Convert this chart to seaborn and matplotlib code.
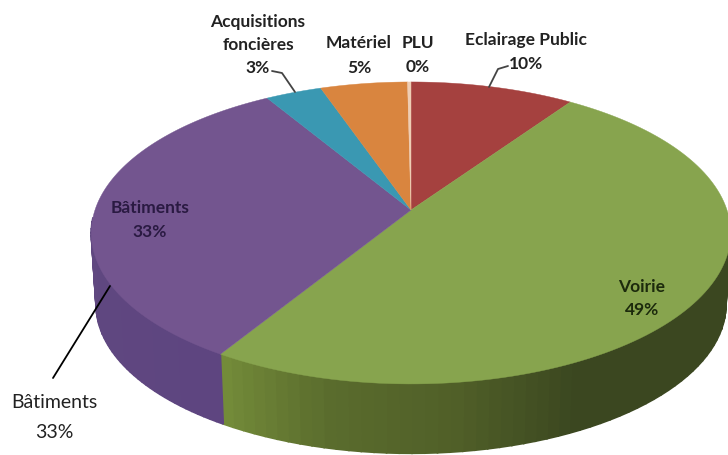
import numpy as np
import matplotlib
matplotlib.use("Agg")
import matplotlib.pyplot as plt
import seaborn as sns

# clockwise from 12 o'clock
postes = ["Eclairage Public", "Voirie", "Bâtiments", "Acquisitions foncières", "Matériel", "PLU"]
valeurs = [9.6, 49.2, 32.6, 3.3, 5.1, 0.2]
couleurs = ["#a5413f", "#87a44e", "#73558f", "#3a98b2", "#d9853f", "#eecdb4"]
cotes = [["#7a302e", "#7a302e"],
         ["#3b4720"] * 7 + ["#505f28", "#5a6c2d", "#758d3a"],
         ["#5e4580", "#624c80"], ["#2a7085", "#2a7085"], ["#a5642e", "#a5642e"], ["#a5642e", "#a5642e"]]

sns.set_theme(style="white")
plt.rcParams["font.family"] = ["Lato", "DejaVu Sans"]


def proj(theta, r=1.0, dy=0.0, sc=1.0):
    # perspective view of the disc, theta clockwise from the top
    u, v = r * np.sin(theta), r * np.cos(theta)
    w = 1 + 0.152 * v
    return 411 + sc * 316 * u / w, 211 + dy - sc * 147.5 * v / w


fig, ax = plt.subplots(figsize=(7.28, 4.56), dpi=100)
fig.subplots_adjust(0, 0, 1, 1)
ax.set_xlim(0, 728)
ax.set_ylim(456, 0)
ax.set_axis_off()

bornes = 2 * np.pi * np.concatenate([[0], np.cumsum(valeurs)]) / np.sum(valeurs)

# side first, in thin strips so the shading can run along the rim
for i in range(len(valeurs)):
    th = np.linspace(bornes[i], bornes[i + 1], 90)
    pal = sns.blend_palette(cotes[i], len(th))
    for j in range(len(th) - 1):
        a = th[j:j + 2]
        if np.cos(a).mean() > -0.05:
            continue
        x1, y1 = proj(a)
        x2, y2 = proj(a[::-1], dy=72, sc=0.985)
        ax.fill(np.r_[x1, x2], np.r_[y1, y2], color=pal[j], lw=1.2)

# top face
for i in range(len(valeurs)):
    th = np.linspace(bornes[i], bornes[i + 1], 120)
    x, y = proj(th)
    ax.fill(np.r_[411, x], np.r_[211, y], color=couleurs[i], lw=0.3)

labels = [
    ("Acquisitions", 258, 22, "#222222"), ("foncières", 258, 45, "#222222"), ("3%", 258, 68, "#222222"),
    ("Matériel", 359, 43, "#222222"), ("5%", 359, 68, "#222222"),
    ("PLU", 418, 43, "#222222"), ("0%", 418, 67, "#222222"),
    ("Eclairage Public", 526, 40, "#222222"), ("10%", 526, 64, "#222222"),
    ("Bâtiments", 150, 208, "#2a1a42"), ("33%", 150, 232, "#2a1a42"),
    ("Voirie", 642, 287, "#1c2a0c"), ("49%", 642, 310, "#1c2a0c"),
]
for txt, x, y, c in labels:
    ax.text(x, y, txt, ha="center", va="center", fontsize=12.5, fontweight="bold", color=c)

ax.plot([272, 282, 295], [72, 74, 93], color="#444444", lw=1.3)
ax.plot([508, 498, 489], [67, 70, 88], color="#444444", lw=1.3)

ax.plot([110, 53], [287, 379], color="black", lw=1.3)
ax.text(54, 403, "Bâtiments", ha="center", va="center", fontsize=14, color="#222222")
ax.text(54, 433, "33%", ha="center", va="center", fontsize=14, color="#222222")

fig.savefig("out.png", dpi=100)
